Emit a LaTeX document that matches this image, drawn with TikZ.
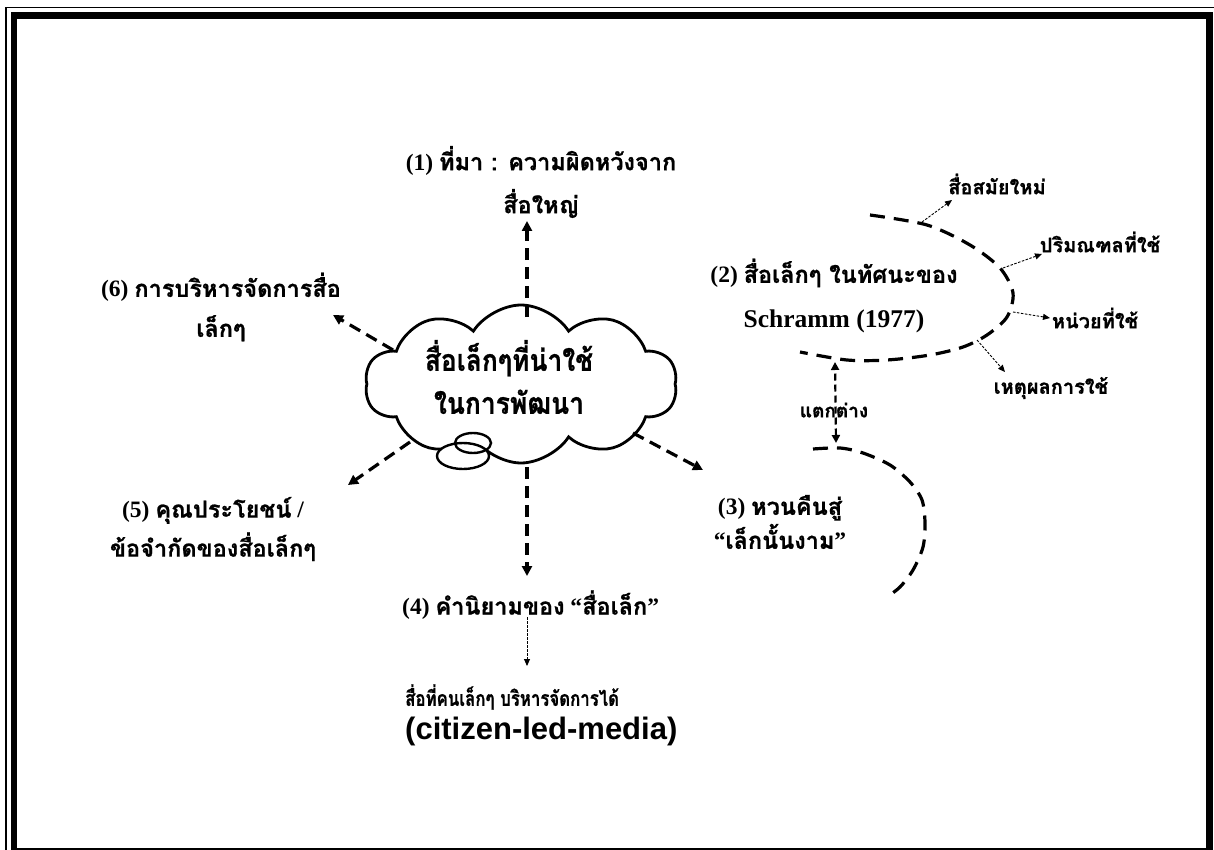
\documentclass[tikz,border=0pt]{standalone}
\usepackage{fontspec}
\setmainfont{Liberation Serif}
\newfontfamily\thaifont[Script=Thai, BoldFeatures={FakeBold=0.8}]{Loma}
\newfontfamily\arialfont{Liberation Sans}
\usetikzlibrary{arrows.meta,shapes.symbols}
\newcommand{\tht}[1]{{\thaifont\bfseries #1}}
\newcommand{\rmb}[1]{{\bfseries #1}}

\begin{document}
\begin{tikzpicture}[x=1pt,y=-1pt,
  lbl/.style={inner sep=0pt, align=center, font=\fontsize{23.5}{40}\selectfont},
  sub/.style={inner sep=0pt, font=\fontsize{20}{24}\selectfont},
  bigdash/.style={line width=3.2pt, dash pattern=on 12pt off 7pt},
  bigarrow/.style={bigdash, -{Triangle[length=10pt,width=10pt]}},
  tinyarrow/.style={line width=0.9pt, dash pattern=on 2.5pt off 1.5pt, -{Triangle[length=7pt,width=6pt]}},
  twoway/.style={line width=2.2pt, dash pattern=on 7pt off 4pt, {Triangle[length=8pt,width=8pt]}-{Triangle[length=8pt,width=8pt]}},
  arcline/.style={line width=3.2pt, dash pattern=on 15pt off 9pt},
]
\useasboundingbox (0,0) rectangle (1214,850);

% page border: thin outer rule and heavy inner rule
\begin{scope}
  \clip (0,0) rectangle (1214,850);
  \draw[line width=1.4pt] (6,850) -- (6,7.5) -- (1214,7.5);
  \draw[line width=6.5pt] (14,15.3) rectangle (1209.5,851);
\end{scope}

% central thought cloud with its two trailing rings
\node[cloud, draw, line width=2.8pt, cloud puffs=10, cloud puff arc=115,
      cloud ignores aspect, minimum width=312pt, minimum height=158pt,
      inner sep=0pt] (core) at (521,384) {};
\fill[white] (463,456) ellipse [x radius=26pt, y radius=13pt];
\fill[white] (473,443) ellipse [x radius=18pt, y radius=10pt];
\draw[line width=2.4pt] (463,456) ellipse [x radius=26pt, y radius=13pt];
\draw[line width=2.4pt] (473,443) ellipse [x radius=18pt, y radius=10pt];
\node[inner sep=0pt, align=center, font=\fontsize{30}{43}\selectfont] (corelbl) at (509,377)
  {\scalebox{0.88}[1]{\tht{สื่อเล็กๆที่น่าใช้}}\\\scalebox{0.88}[1]{\tht{ในการพัฒนา}}};

% topic labels
\node[lbl, font=\fontsize{23.5}{43}\selectfont] (src) at (541,182)
  {\rmb{(1)} \tht{ที่มา : ความผิดหวังจาก}\\\tht{สื่อใหญ่}};
\node[lbl] (mgmt) at (221,307) {\rmb{(6)} \tht{การบริหารจัดการสื่อ}\\\tht{เล็กๆ}};
\node[lbl, font=\fontsize{23.5}{39}\selectfont] (pros) at (213,529)
  {\rmb{(5)} \tht{คุณประโยชน์} \rmb{/}\\\tht{ข้อจำกัดของสื่อเล็กๆ}};
\node[lbl, font=\fontsize{23.5}{34}\selectfont] (back) at (780,522)
  {\rmb{(3)} \tht{หวนคืนสู่}\\\rmb{“}\tht{เล็กนั้นงาม}\rmb{”}};
\node[lbl, font=\fontsize{23.5}{45}\selectfont] (schr) at (834,296)
  {\rmb{(2)} \tht{สื่อเล็กๆ ในทัศนะของ}\\{\fontsize{25.5}{45}\selectfont\rmb{Schramm (1977)}}};
\node[lbl, anchor=west] (defn) at (402,605) {\rmb{(4)} \tht{คำนิยามของ} \rmb{“}\tht{สื่อเล็ก}\rmb{”}};
\node[inner sep=0pt, anchor=west, font=\fontsize{21}{26}\selectfont] (who) at (405,697)
  {\scalebox{0.8}[1]{\tht{สื่อที่คนเล็กๆ บริหารจัดการได้}}};
\node[inner sep=0pt, anchor=west, font=\arialfont\bfseries\fontsize{31}{31}\selectfont]
      (cit) at (405,731) {(citizen-led-media)};

% aspects of Schramm's view
\node[sub] (modern) at (997,184) {\tht{สื่อสมัยใหม่}};
\node[sub] (scope) at (1100,242) {\tht{ปริมณฑลที่ใช้}};
\node[sub] (unit) at (1095,318) {\tht{หน่วยที่ใช้}};
\node[sub] (why) at (1051,388) {\tht{เหตุผลการใช้}};
\node[sub, font=\fontsize{19}{24}\selectfont] (diff) at (834,410) {\tht{แตกต่าง}};

% dashed brackets
\draw[arcline] plot[smooth] coordinates {(870,215) (927,225) (970,245) (1000,268)
  (1013,293) (1007,317) (987,335) (963,347) (930,355) (887,360) (847,360) (800,352)};
\draw[arcline] plot[smooth] coordinates {(813,449) (840,448) (863,453) (890,465)
  (910,482) (922,500) (925,523) (923,547) (913,570) (900,587) (887,597)};

% arrow end points
\coordinate (c1) at (527,317);  \coordinate (t1) at (527,221);
\coordinate (c6) at (393,350);  \coordinate (t6) at (333,315);
\coordinate (c5) at (410,442);  \coordinate (t5) at (348,485);
\coordinate (c4) at (527,467);  \coordinate (t4) at (527,576);
\coordinate (c3) at (633,433);  \coordinate (t3) at (703,470);
\coordinate (d4) at (527,617);  \coordinate (e4) at (527,666);
\coordinate (p1) at (922,222);  \coordinate (q1) at (952,200);
\coordinate (p2) at (1003,268); \coordinate (q2) at (1042,254);
\coordinate (p3) at (1013,312); \coordinate (q3) at (1050,318);
\coordinate (p4) at (977,340);  \coordinate (q4) at (1005,372);
\coordinate (u1) at (835,362);  \coordinate (u2) at (836,443);

\draw[bigarrow] (c1) -- (t1);
\draw[bigarrow] (c6) -- (t6);
\draw[bigarrow] (c5) -- (t5);
\draw[bigarrow] (c4) -- (t4);
\draw[bigarrow] (c3) -- (t3);
\draw[tinyarrow] (d4) -- (e4);
\draw[tinyarrow] (p1) -- (q1);
\draw[tinyarrow] (p2) -- (q2);
\draw[tinyarrow] (p3) -- (q3);
\draw[tinyarrow] (p4) -- (q4);
\draw[twoway] (u2) -- (u1);
\end{tikzpicture}
\end{document}
